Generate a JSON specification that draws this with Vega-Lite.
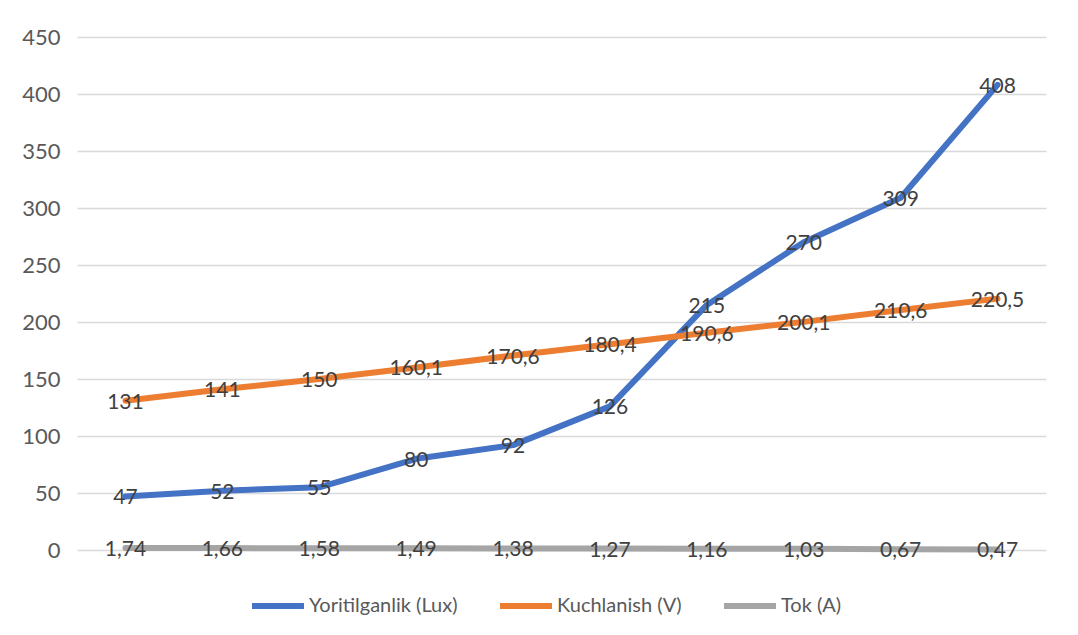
{
  "$schema": "https://vega.github.io/schema/vega-lite/v6.json",
  "width": 969,
  "height": 513,
  "autosize": "none",
  "padding": {"left": 77, "top": 37, "right": 32, "bottom": 85},
  "background": "white",
  "config": {
    "view": {"stroke": null},
    "font": "Lato",
    "locale": {"number": {"decimal": ",", "thousands": ".", "grouping": [3], "currency": ["", ""]}}
  },
  "data": {"values": [
    {"i": 1, "series": "Yoritilganlik (Lux)", "value": 47},
    {"i": 2, "series": "Yoritilganlik (Lux)", "value": 52},
    {"i": 3, "series": "Yoritilganlik (Lux)", "value": 55},
    {"i": 4, "series": "Yoritilganlik (Lux)", "value": 80},
    {"i": 5, "series": "Yoritilganlik (Lux)", "value": 92},
    {"i": 6, "series": "Yoritilganlik (Lux)", "value": 126},
    {"i": 7, "series": "Yoritilganlik (Lux)", "value": 215},
    {"i": 8, "series": "Yoritilganlik (Lux)", "value": 270},
    {"i": 9, "series": "Yoritilganlik (Lux)", "value": 309},
    {"i": 10, "series": "Yoritilganlik (Lux)", "value": 408},
    {"i": 1, "series": "Kuchlanish (V)", "value": 131},
    {"i": 2, "series": "Kuchlanish (V)", "value": 141},
    {"i": 3, "series": "Kuchlanish (V)", "value": 150},
    {"i": 4, "series": "Kuchlanish (V)", "value": 160.1},
    {"i": 5, "series": "Kuchlanish (V)", "value": 170.6},
    {"i": 6, "series": "Kuchlanish (V)", "value": 180.4},
    {"i": 7, "series": "Kuchlanish (V)", "value": 190.6},
    {"i": 8, "series": "Kuchlanish (V)", "value": 200.1},
    {"i": 9, "series": "Kuchlanish (V)", "value": 210.6},
    {"i": 10, "series": "Kuchlanish (V)", "value": 220.5},
    {"i": 1, "series": "Tok (A)", "value": 1.74},
    {"i": 2, "series": "Tok (A)", "value": 1.66},
    {"i": 3, "series": "Tok (A)", "value": 1.58},
    {"i": 4, "series": "Tok (A)", "value": 1.49},
    {"i": 5, "series": "Tok (A)", "value": 1.38},
    {"i": 6, "series": "Tok (A)", "value": 1.27},
    {"i": 7, "series": "Tok (A)", "value": 1.16},
    {"i": 8, "series": "Tok (A)", "value": 1.03},
    {"i": 9, "series": "Tok (A)", "value": 0.67},
    {"i": 10, "series": "Tok (A)", "value": 0.47}
  ]},
  "encoding": {
    "x": {"field": "i", "type": "ordinal", "scale": {"type": "point", "padding": 0.5}, "axis": null},
    "y": {"field": "value", "type": "quantitative", "scale": {"domain": [0, 450]},
      "axis": {"values": [0, 50, 100, 150, 200, 250, 300, 350, 400, 450], "title": null, "ticks": false, "domain": false,
        "labelPadding": 17, "labelFontSize": 22, "labelColor": "#595959", "labelFont": "Lato",
        "gridColor": "#D9D9D9", "gridWidth": 1.5}}
  },
  "layer": [
    {
      "mark": {"type": "line", "strokeWidth": 6, "strokeCap": "round", "strokeJoin": "round"},
      "encoding": {
        "color": {"field": "series", "type": "nominal",
          "scale": {"domain": ["Yoritilganlik (Lux)", "Kuchlanish (V)", "Tok (A)"], "range": ["#4472C4", "#ED7D31", "#A5A5A5"]},
          "legend": {"title": null, "orient": "none", "direction": "horizontal", "legendX": 172, "legendY": 540,
            "symbolType": "stroke", "symbolSize": 2700, "symbolStrokeWidth": 6, "labelFontSize": 20,
            "labelColor": "#595959", "labelFont": "Lato", "labelOffset": 2, "columnPadding": 30}}
      }
    },
    {
      "mark": {"type": "text", "fontSize": 21, "color": "#404040", "baseline": "middle", "dy": 2, "font": "Lato"},
      "encoding": {"text": {"field": "value", "type": "quantitative", "format": ".2~f"}}
    }
  ]
}
